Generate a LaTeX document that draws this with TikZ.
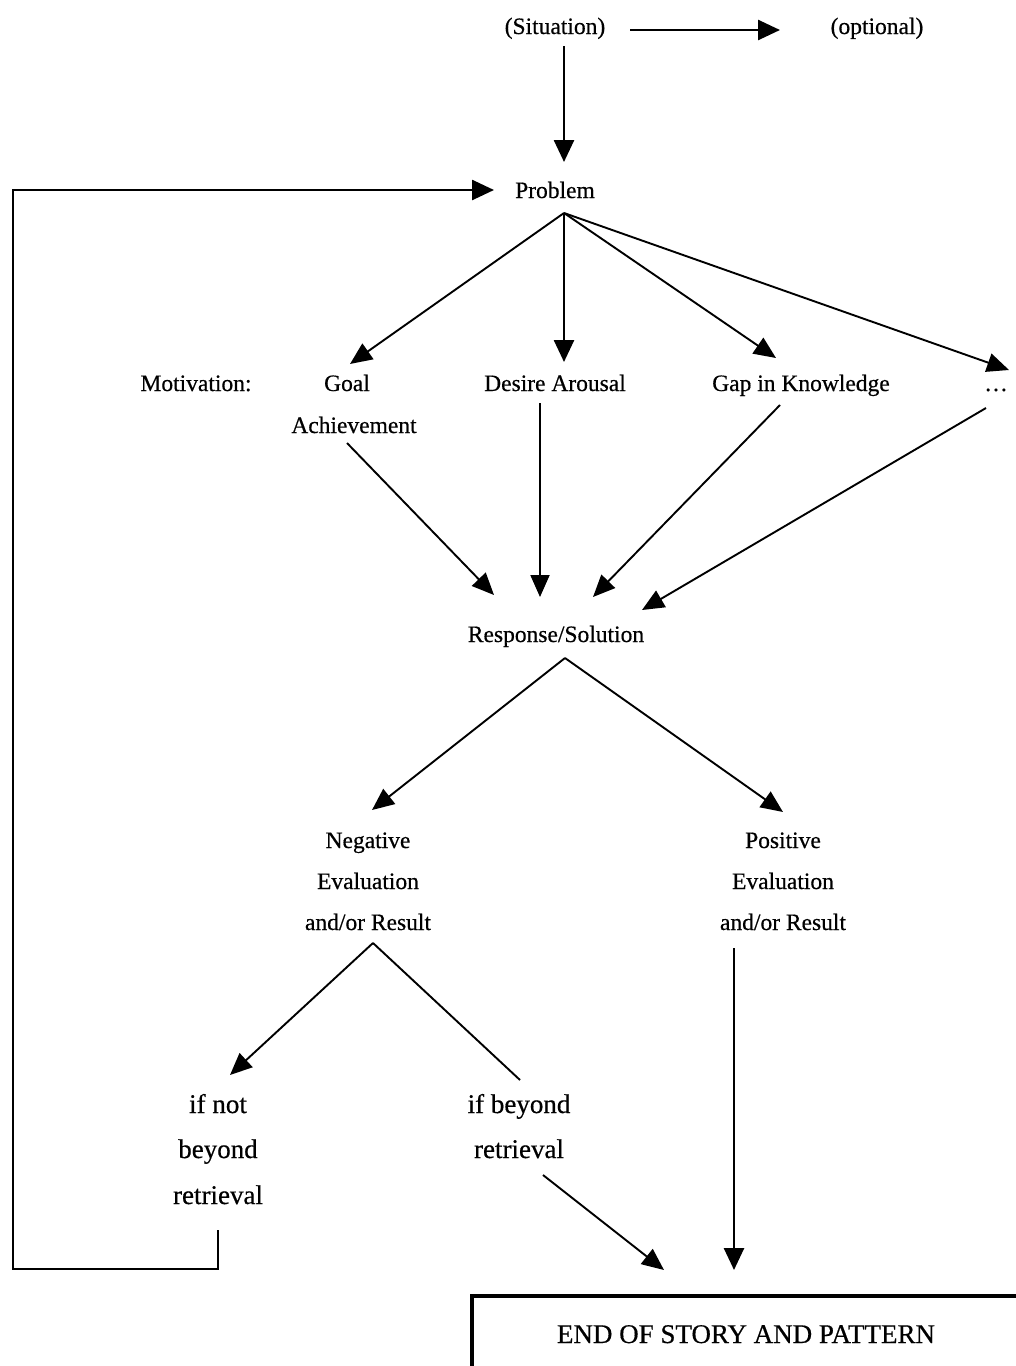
\documentclass[tikz,border=0pt]{standalone}
\usepackage{fontspec}
\setmainfont[FakeBold=0.5,AutoFakeBold=0.5]{Liberation Serif}
\usetikzlibrary{arrows.meta}
\begin{document}
\begin{tikzpicture}[x=1pt,y=-1pt,
  t/.style={font=\fontsize{23.5}{28}\selectfont\bfseries, inner sep=0pt, anchor=base},
  tb/.style={font=\fontsize{27}{32}\selectfont\bfseries, inner sep=0pt, anchor=base},
  ar/.style={line width=1.9pt, -{Triangle[length=22pt,width=19pt]}},
  arT/.style={line width=2.6pt, -{Triangle[length=22pt,width=20pt]}},
  ln/.style={line width=1.9pt}]
\useasboundingbox (0,0) rectangle (1016,1366);
% texts
\node[t] (sit) at (555,34) {(Situation)};
\node[t] (opt) at (877,34) {(optional)};
\node[t] (prob) at (555,198) {Problem};
\node[t] (mot) at (196,391) {Motivation:};
\node[t] (goal) at (347,391) {Goal};
\node[t] (ach) at (354,433) {Achievement};
\node[t] (des) at (555,391) {Desire Arousal};
\node[t] (gap) at (801,391) {Gap in Knowledge};
\node[t] (dots) at (996,391) {\ldots};
\node[t] (resp) at (556,642) {Response/Solution};
\node[t] (neg1) at (368,848) {Negative};
\node[t] (neg2) at (368,889) {Evaluation};
\node[t] (neg3) at (368,930) {and/or Result};
\node[t] (pos1) at (783,848) {Positive};
\node[t] (pos2) at (783,889) {Evaluation};
\node[t] (pos3) at (783,930) {and/or Result};
\node[tb] (nb1) at (218,1113) {if not};
\node[tb] (nb2) at (218,1158) {beyond};
\node[tb] (nb3) at (218,1204) {retrieval};
\node[tb] (b1) at (519,1113) {if beyond};
\node[tb] (b2) at (519,1158) {retrieval};
\node[tb] (endt) at (746,1343) {END OF STORY AND PATTERN};
% end box
\draw[line width=4pt] (1030,1296) -- (472,1296) -- (472,1380);
% coordinates
\coordinate (sitR) at (630,30);
\coordinate (optL) at (780,30);
\coordinate (sitB) at (564,46);
\coordinate (probT) at (564,162);
\coordinate (apex) at (564,213);
\coordinate (goalT) at (350,364);
\coordinate (desT) at (564,362);
\coordinate (gapT) at (776,358);
\coordinate (dotsT) at (1009,370);
\coordinate (achB) at (347,443);
\coordinate (desB) at (540,403);
\coordinate (gapB) at (780,405);
\coordinate (dotsB) at (986,408);
\coordinate (r1) at (494,595);
\coordinate (r2) at (540,597);
\coordinate (r3) at (593,597);
\coordinate (r4) at (642,610);
\coordinate (respB) at (565,658);
\coordinate (negT) at (372,810);
\coordinate (posT) at (783,812);
\coordinate (negB) at (373,943);
\coordinate (nbT) at (230,1075);
\coordinate (bT) at (520,1080);
\coordinate (nbB) at (218,1230);
\coordinate (loopA) at (218,1269);
\coordinate (loopB) at (13,1269);
\coordinate (loopC) at (13,190);
\coordinate (probL) at (494,190);
\coordinate (bB) at (543,1175);
\coordinate (box1) at (664,1270);
\coordinate (posB) at (734,948);
\coordinate (box2) at (734,1270);
% arrows
\draw[arT] (sitR) -- (optL);
\draw[arT] (sitB) -- (probT);
\draw[ar] (apex) -- (goalT);
\draw[arT] (apex) -- (desT);
\draw[ar] (apex) -- (gapT);
\draw[ar] (apex) -- (dotsT);
\draw[ar] (achB) -- (r1);
\draw[ar] (desB) -- (r2);
\draw[ar] (gapB) -- (r3);
\draw[ar] (dotsB) -- (r4);
\draw[ar] (respB) -- (negT);
\draw[ar] (respB) -- (posT);
\draw[ar] (negB) -- (nbT);
\draw[ln] (negB) -- (bT);
\draw[arT] (nbB) -- (loopA) -- (loopB) -- (loopC) -- (probL);
\draw[ar] (bB) -- (box1);
\draw[arT] (posB) -- (box2);
\end{tikzpicture}
\end{document}
